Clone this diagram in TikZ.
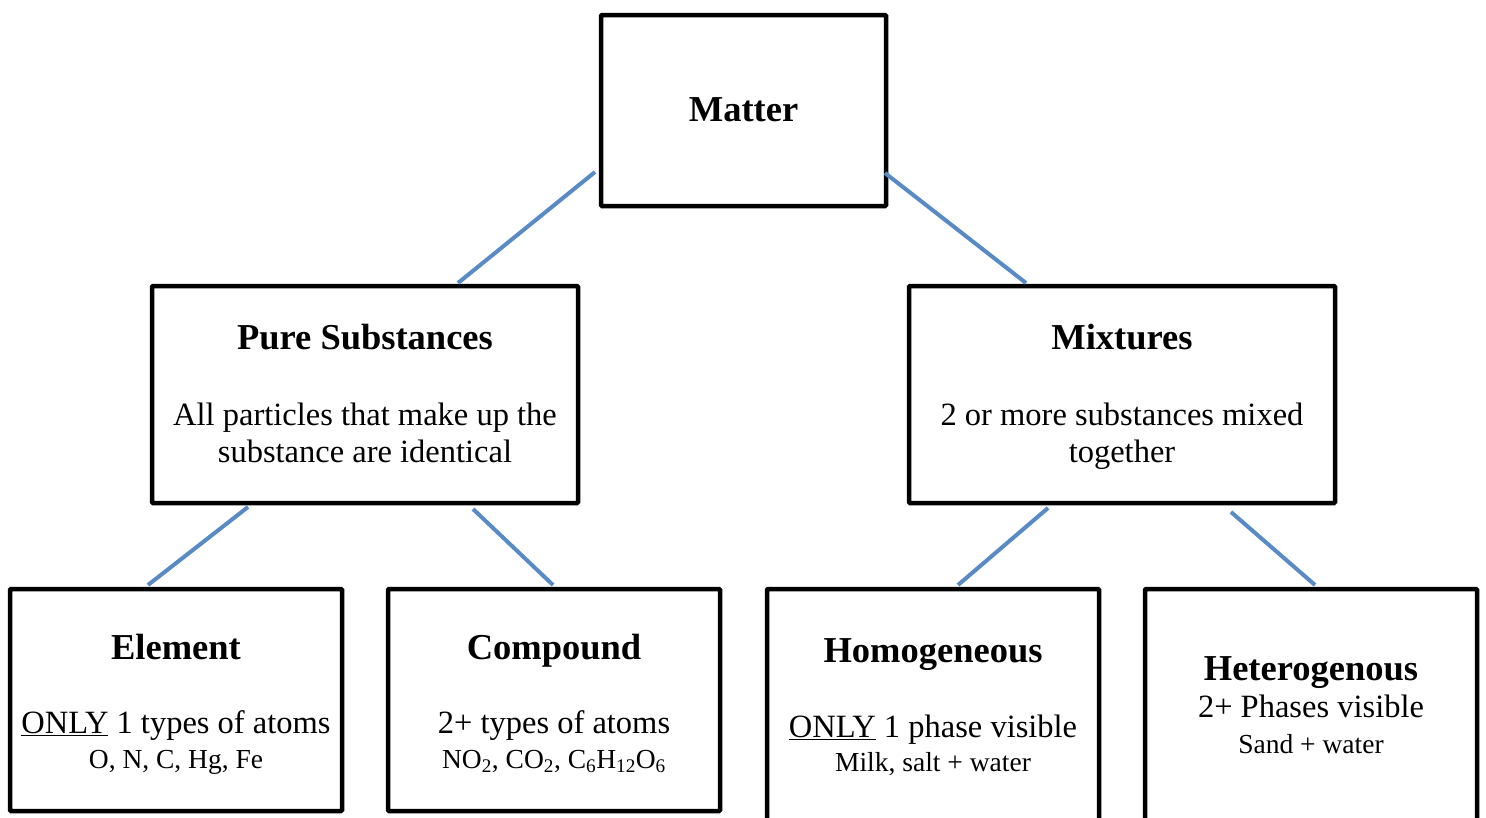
\documentclass[tikz,border=0pt]{standalone}
\usepackage{fontspec}
\setmainfont{Liberation Serif}
\definecolor{linkblue}{RGB}{88,138,198}
\begin{document}
\begin{tikzpicture}[x=1pt,y=-1pt,
  box/.style={draw=black,line width=4.5pt,rounded corners=1pt,inner sep=0pt,fill=none},
  head/.style={anchor=base,inner sep=0pt,font=\fontsize{36.5}{40}\selectfont\bfseries},
  body/.style={anchor=base,inner sep=0pt,font=\fontsize{32.5}{37}\selectfont},
  small/.style={anchor=base,inner sep=0pt,font=\fontsize{27.5}{33}\selectfont},
  link/.style={draw=linkblue,line width=4pt}]
\useasboundingbox (0,0) rectangle (1486,817);
% boxes
\node[box,minimum width=285pt,minimum height=191pt] (matter) at (743.5,110.5) {};
\node[box,minimum width=426pt,minimum height=217pt] (pure) at (365,394.5) {};
\node[box,minimum width=426pt,minimum height=217pt] (mix) at (1122,394.5) {};
\node[box,minimum width=332pt,minimum height=222pt] (elem) at (176,700) {};
\node[box,minimum width=332pt,minimum height=222pt] (comp) at (554,700) {};
\node[box,minimum width=332pt,minimum height=250pt] (homo) at (933,714) {};
\node[box,minimum width=332pt,minimum height=250pt] (hetero) at (1311,714) {};
% texts
\node[head] (tmatter) at (743.5,121) {Matter};
\node[head] (tpure) at (365,349) {Pure Substances};
\node[body] (tpure1) at (365,425) {All particles that make up the};
\node[body] (tpure2) at (365,462) {substance are identical};
\node[head] (tmix) at (1122,349) {Mixtures};
\node[body] (tmix1) at (1122,425) {2 or more substances mixed};
\node[body] (tmix2) at (1122,462) {together};
\node[head] (telem) at (176,659) {Element};
\node[body] (telem1) at (176,733) {\underline{ONLY} 1 types of atoms};
\node[small] (telem2) at (176,768) {O, N, C, Hg, Fe};
\node[head] (tcomp) at (554,659) {Compound};
\node[body] (tcomp1) at (554,733) {2+ types of atoms};
\node[small] (tcomp2) at (554,768) {NO\textsubscript{2}, CO\textsubscript{2}, C\textsubscript{6}H\textsubscript{12}O\textsubscript{6}};
\node[head] (thomo) at (933,662) {Homogeneous};
\node[body] (thomo1) at (933,737) {\underline{ONLY} 1 phase visible};
\node[small] (thomo2) at (933,771) {Milk, salt + water};
\node[head] (thet) at (1311,680) {Heterogenous};
\node[body] (thet1) at (1311,717) {2+ Phases visible};
\node[small] (thet2) at (1311,753) {Sand + water};
% connector end points
\coordinate (a1) at (595,172); \coordinate (a2) at (458,283);
\coordinate (b1) at (885,173); \coordinate (b2) at (1026,283);
\coordinate (c1) at (248,507); \coordinate (c2) at (148,585);
\coordinate (d1) at (473,509); \coordinate (d2) at (553,585);
\coordinate (e1) at (1048,508); \coordinate (e2) at (958,585);
\coordinate (f1) at (1231,512); \coordinate (f2) at (1315,585);
\draw[link] (a1) -- (a2);
\draw[link] (b1) -- (b2);
\draw[link] (c1) -- (c2);
\draw[link] (d1) -- (d2);
\draw[link] (e1) -- (e2);
\draw[link] (f1) -- (f2);
\end{tikzpicture}
\end{document}
